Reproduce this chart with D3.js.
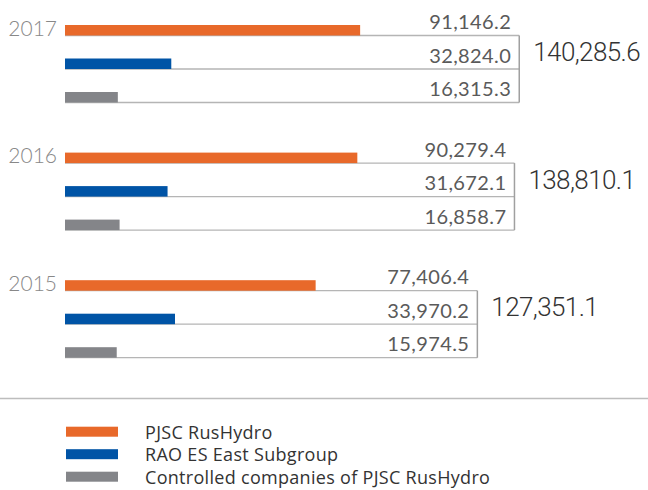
<!DOCTYPE html>
<html>
<head>
<meta charset="utf-8">
<script src="https://cdn.jsdelivr.net/npm/d3@7"></script>
<style>
  body { margin: 0; background: #fff; }
</style>
</head>
<body>
<script>
var years = ["2017", "2016", "2015"];
var seriesNames = ["PJSC RusHydro", "RAO ES East Subgroup", "Controlled companies of PJSC RusHydro"];
var pjsc = [91146.2, 90279.4, 77406.4];
var raoEast = [32824.0, 31672.1, 33970.2];
var controlled = [16315.3, 16858.7, 15974.5];
var totals = [140285.6, 138810.1, 127351.1];
var colors = ["#e8692a", "#0054a6", "#848589"];

var series = [pjsc, raoEast, controlled];
var fmt = d3.format(",.1f");

var svg = d3.select("body").append("svg")
    .attr("width", 648)
    .attr("height", 490);

var x = d3.scaleLinear().domain([0, 100000]).range([65, 388.8]);
var yGroup = d3.scalePoint().domain(years).range([35.5, 290.7]);
var yRow = d3.scalePoint().domain(seriesNames).range([0, 67]);
var barH = 10.5;

years.forEach(function(year, i) {
    var g = svg.append("g").attr("transform", "translate(0," + yGroup(year) + ")");
    var right = x(totals[i]);

    // row lines and the closing bracket
    g.selectAll("line.row")
        .data(seriesNames)
        .enter()
        .append("line")
        .attr("x1", x(0))
        .attr("x2", right)
        .attr("y1", function(d) { return yRow(d); })
        .attr("y2", function(d) { return yRow(d); })
        .attr("stroke", "#b5b5b5")
        .attr("stroke-width", 1.3);

    g.append("line")
        .attr("x1", right).attr("x2", right)
        .attr("y1", yRow(seriesNames[0])).attr("y2", yRow(seriesNames[2]))
        .attr("stroke", "#a0a0a0")
        .attr("stroke-width", 1.5);

    g.selectAll("rect")
        .data(seriesNames)
        .enter()
        .append("rect")
        .attr("x", x(0))
        .attr("y", function(d) { return yRow(d) - barH; })
        .attr("width", function(d, j) { return x(series[j][i]) - x(0); })
        .attr("height", barH)
        .attr("fill", function(d, j) { return colors[j]; });

    g.selectAll("text.val")
        .data(seriesNames)
        .enter()
        .append("text")
        .attr("class", "val")
        .attr("x", right - 8)
        .attr("y", function(d) { return yRow(d) - 6.5; })
        .attr("text-anchor", "end")
        .style("font-family", "Lato, sans-serif")
        .style("font-size", "20px")
        .style("font-weight", 400)
        .style("letter-spacing", "0.4px")
        .attr("fill", "#5a5a5a")
        .text(function(d, j) { return fmt(series[j][i]); });

    g.append("text")
        .attr("x", right + 14)
        .attr("y", yRow(seriesNames[1]) - 8)
        .style("font-family", "Roboto, sans-serif")
        .style("font-size", "26px")
        .style("font-weight", 300)
        .style("letter-spacing", "-0.6px")
        .attr("fill", "#333")
        .text(fmt(totals[i]));

    g.append("text")
        .attr("x", 57)
        .attr("y", 0)
        .attr("text-anchor", "end")
        .style("font-family", "Lato, sans-serif")
        .style("font-size", "21px")
        .style("font-weight", 300)
        .attr("fill", "#888")
        .text(year);
});

svg.append("line")
    .attr("x1", 0).attr("x2", 648)
    .attr("y1", 398.5).attr("y2", 398.5)
    .attr("stroke", "#bdbdbd")
    .attr("stroke-width", 1.3);

var legend = svg.selectAll("g.legend")
    .data(seriesNames)
    .enter()
    .append("g")
    .attr("class", "legend")
    .attr("transform", function(d, j) { return "translate(66," + (426.7 + j * 22.5) + ")"; });

legend.append("rect")
    .attr("width", 52)
    .attr("height", 10)
    .attr("fill", function(d, j) { return colors[j]; });

legend.append("text")
    .attr("x", 79)
    .attr("y", 11.8)
    .style("font-family", "'Open Sans', sans-serif")
    .style("font-size", "18px")
    .style("letter-spacing", "0.3px")
    .attr("fill", "#333")
    .text(function(d) { return d; });
</script>
</body>
</html>
